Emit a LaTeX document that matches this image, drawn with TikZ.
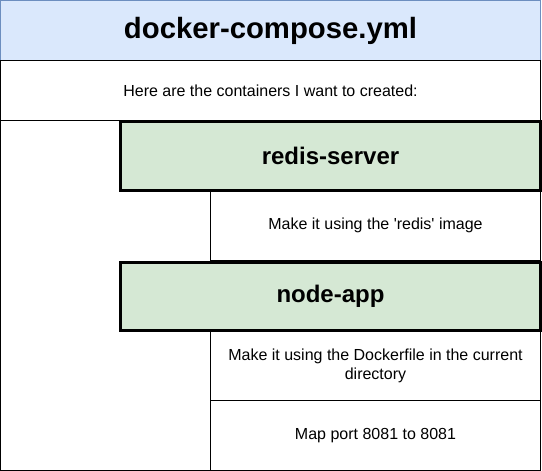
\documentclass[tikz,border=0pt]{standalone}
\usepackage{fontspec}
\setmainfont{Liberation Sans}
\definecolor{hdrfill}{HTML}{DAE8FC}
\definecolor{hdrline}{HTML}{6C8EBF}
\definecolor{svcfill}{HTML}{D5E8D4}
\begin{document}
\begin{tikzpicture}[x=1pt,y=-1pt,
  cell/.style={draw=black, line width=1pt, fill=white, rectangle, outer sep=0pt, inner sep=0pt,
    anchor=north west, align=center, font=\fontsize{16}{19.2}\selectfont},
  hdrbox/.style={draw=hdrline, line width=1pt, fill=hdrfill, rectangle, outer sep=0pt, inner sep=0pt,
    anchor=north west, align=center, font=\bfseries\fontsize{29.3}{35}\selectfont},
  svc/.style={draw=black, line width=3pt, fill=svcfill, rectangle, outer sep=0pt, inner sep=0pt,
    anchor=north west, align=center, font=\bfseries\fontsize{24}{28.8}\selectfont}]
\useasboundingbox (0,0) rectangle (542,471);
\node[cell, minimum width=540pt, minimum height=350pt] (outer) at (0.5,120.5) {};
\node[hdrbox, minimum width=540pt, minimum height=60pt] (hdr) at (0.5,0.5) {docker-compose.yml};
\node[cell, minimum width=540pt, minimum height=60pt] (intro) at (0.5,60.5) {Here are the containers I want to created:};
\node[cell, minimum width=330pt, minimum height=70pt] (redisimg) at (210.5,190.5) {Make it using the \textquotesingle redis\textquotesingle\ image};
\node[cell, minimum width=330pt, minimum height=70pt] (dockerfile) at (210.5,330.5) {Make it using the Dockerfile in the current\\directory};
\node[cell, minimum width=330pt, minimum height=70pt] (port) at (210.5,400.5) {Map port 8081 to 8081};
\node[svc, minimum width=420pt, minimum height=69pt] (redis) at (120.5,121) {redis-server};
\node[svc, minimum width=420pt, minimum height=68pt] (nodeapp) at (120.5,262) {node-app};
\end{tikzpicture}
\end{document}
